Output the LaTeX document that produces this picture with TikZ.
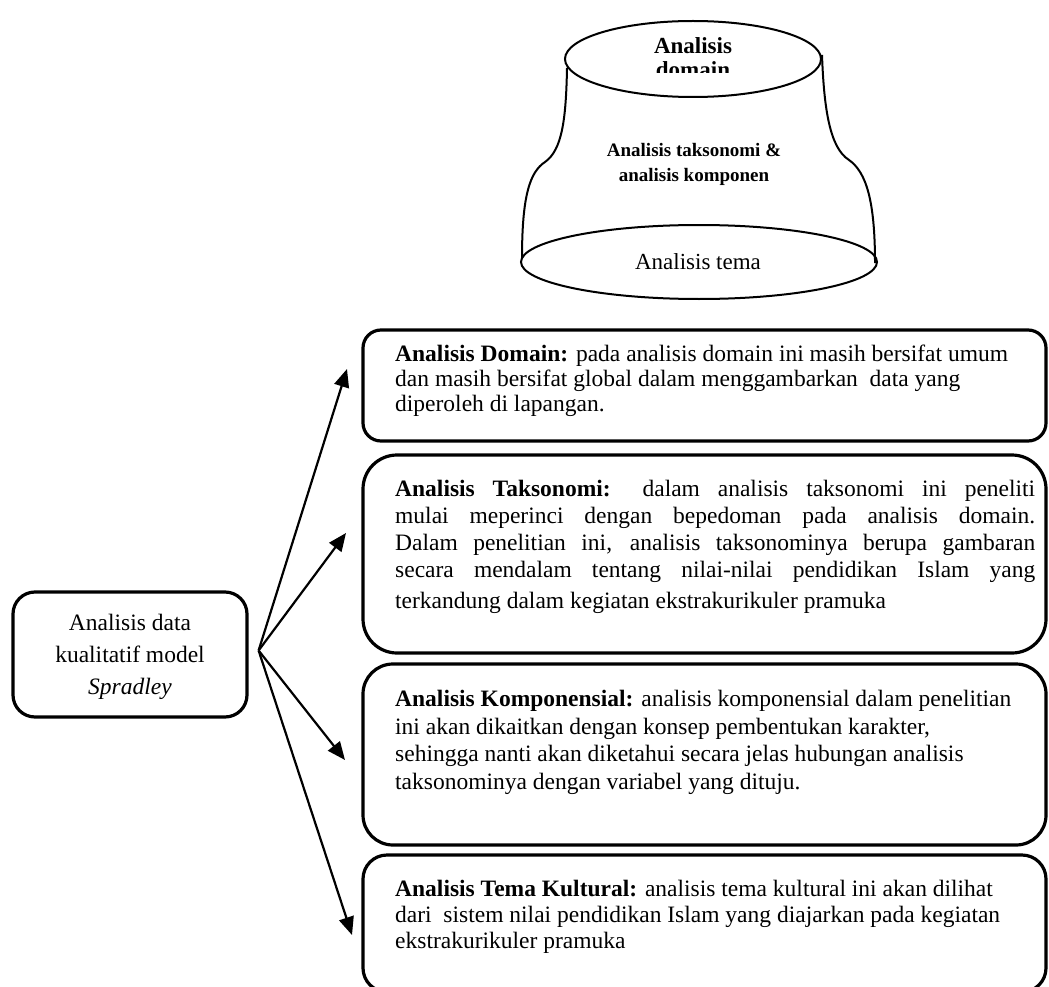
\documentclass[tikz,border=0pt]{standalone}
\usepackage{fontspec}
\setmainfont{Liberation Serif}
\usetikzlibrary{arrows.meta}
\begin{document}
\begin{tikzpicture}[x=1pt,y=-1pt,
  box/.style={draw,line width=3.2pt,rounded corners=#1,inner sep=0pt},
  box/.default=20pt,
  body/.style={anchor=north west,inner sep=0pt,align=left},
  arr/.style={line width=2.2pt,-{Triangle[length=18pt,width=15pt]}},
  cyl/.style={line width=2pt}]
\useasboundingbox (0,0) rectangle (1049,987);
% cylinder-like shape
\draw[cyl] (567,68) .. controls (566,120) and (562,150) .. (545,162)
  .. controls (530,172) and (522,195) .. (522,258);
\draw[cyl] (822,55) .. controls (824,110) and (830,148) .. (849,160)
  .. controls (866,172) and (875,200) .. (875,263);
\draw[cyl] (693,59) ellipse [x radius=128, y radius=38];
\draw[cyl] (699,262) ellipse [x radius=178, y radius=37];
\begin{scope}
\clip (600,25) rectangle (790,73);
\node[inner sep=0pt,align=center,font=\fontsize{23}{24}\selectfont\bfseries,anchor=north] (dom) at (693,37) {Analisis\\domain};
\end{scope}
\node[inner sep=0pt,align=center,font=\fontsize{19}{25}\selectfont\bfseries,anchor=north] (tak) at (694,143) {Analisis taksonomi \&\\analisis komponen};
\node[inner sep=0pt,font=\fontsize{23}{25}\selectfont] (tema) at (698,262) {Analisis tema};
% left box
\node[box=22pt,minimum width=234pt,minimum height=125pt] (src) at (130,654.5) {};
\node[inner sep=0pt,align=center,anchor=north,font=\fontsize{23.5}{32}\selectfont] (srct) at (130,614) {Analisis data\\kualitatif model\\\textit{Spradley}};
% right boxes
\node[box=18pt,minimum width=683pt,minimum height=111pt] (b1) at (704.5,385.5) {};
\node[box=34pt,minimum width=683pt,minimum height=198pt] (b2) at (704.5,554) {};
\node[box=30pt,minimum width=683pt,minimum height=181pt] (b3) at (704.5,754.5) {};
\node[box=24pt,minimum width=683pt,minimum height=137pt] (b4) at (704.5,923.5) {};
\node[body,font=\fontsize{23.5}{25}\selectfont] (b1t) at (395,345)
 {\textbf{Analisis Domain:} pada analisis domain ini masih bersifat umum\\
  dan masih bersifat global dalam menggambarkan\ \ data yang\\
  diperoleh di lapangan.};
\node[body,font=\fontsize{23.5}{27}\selectfont] (b2t) at (395,480)
 {\makebox[640pt][s]{\textbf{Analisis Taksonomi:} dalam analisis taksonomi ini peneliti}\\
  \makebox[640pt][s]{mulai meperinci dengan bepedoman pada analisis domain.}\\
  \makebox[640pt][s]{Dalam penelitian ini, analisis taksonominya berupa gambaran}\\
  \makebox[640pt][s]{secara mendalam tentang nilai-nilai pendidikan Islam yang}\\[4pt]
  terkandung dalam kegiatan ekstrakurikuler pramuka};
\node[body,font=\fontsize{23.5}{27.5}\selectfont] (b3t) at (395,690)
 {\textbf{Analisis Komponensial:} analisis komponensial dalam penelitian\\
  ini akan dikaitkan dengan konsep pembentukan karakter,\\
  sehingga nanti akan diketahui secara jelas hubungan analisis\\
  taksonominya dengan variabel yang dituju.};
\node[body,font=\fontsize{23.5}{26}\selectfont] (b4t) at (395,880)
 {\textbf{Analisis Tema Kultural:} analisis tema kultural ini akan dilihat\\
  dari\ \ sistem nilai pendidikan Islam yang diajarkan pada kegiatan\\
  ekstrakurikuler pramuka};
% arrows
\coordinate (hub) at ([xshift=10pt,yshift=4pt]src.east);
\coordinate (t1) at (347,369);
\coordinate (t2) at (346,533);
\coordinate (t3) at (345,760);
\coordinate (t4) at (352,935);
\draw[arr] (hub) -- (t1);
\draw[arr] (hub) -- (t2);
\draw[arr] (hub) -- (t3);
\draw[arr] (hub) -- (t4);
\end{tikzpicture}
\end{document}
